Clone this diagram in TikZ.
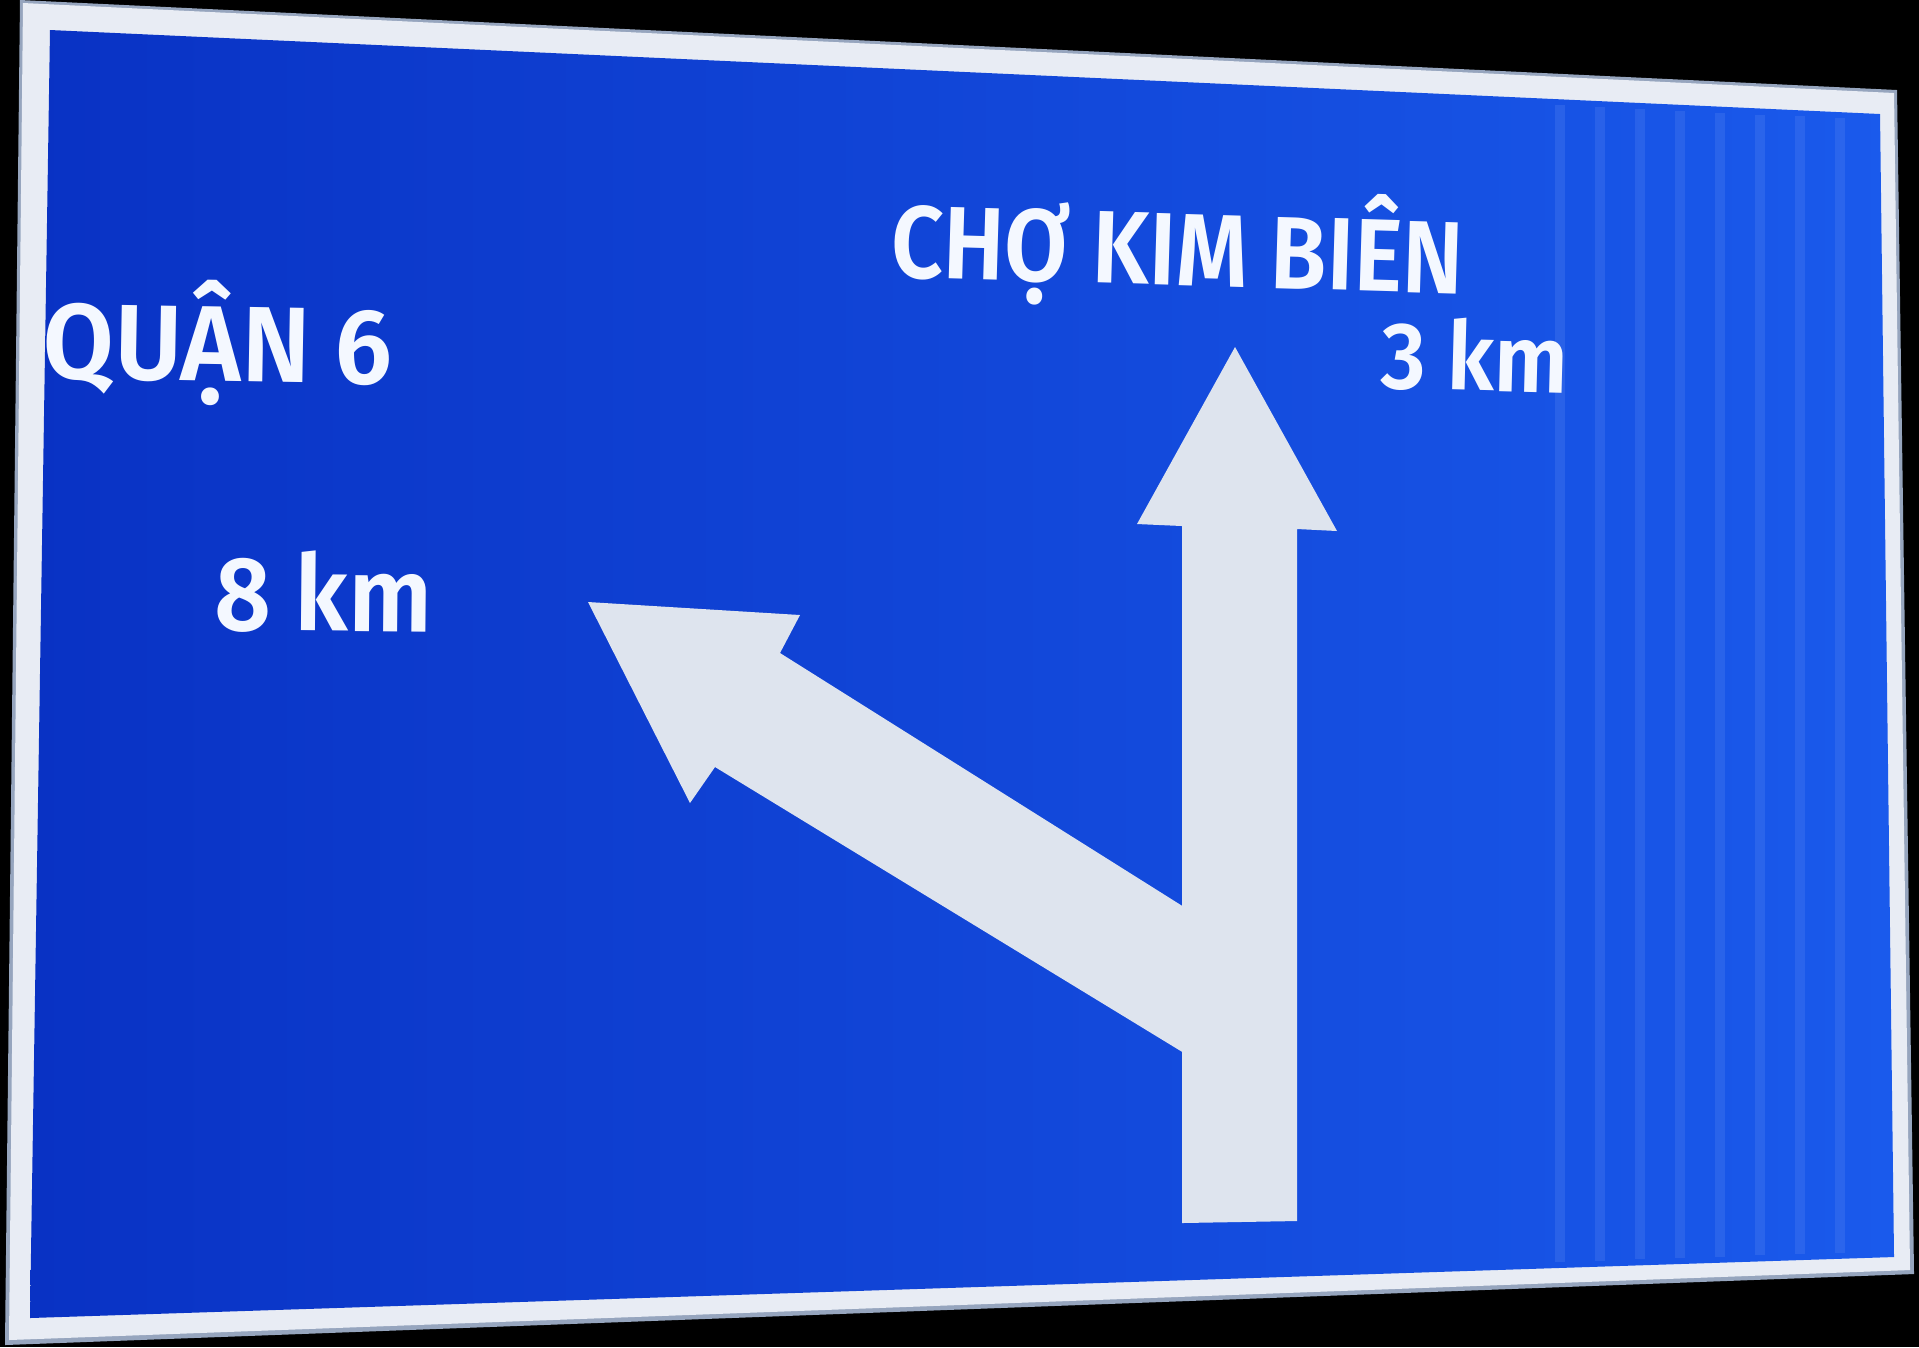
\documentclass[tikz,border=0pt]{standalone}
\usepackage{fontspec}
\setmainfont{Fira Sans}[BoldFont={Fira Sans SemiBold}]
\usepackage{graphicx}
\newsavebox\sgnbox
\newcommand\fitw[2]{\sbox\sgnbox{#2}\pgfmathsetmacro\sgnsx{#1*0.284528/\the\wd\sgnbox}\scalebox{\sgnsx}[1]{\usebox\sgnbox}}
\definecolor{blueA}{RGB}{9,50,196}
\definecolor{blueB}{RGB}{26,90,236}
\definecolor{rimwhite}{RGB}{232,236,244}
\definecolor{rimgrey}{RGB}{150,165,190}
\definecolor{arrowwhite}{RGB}{222,228,238}
\definecolor{txtwhite}{RGB}{244,248,255}
\tikzset{
  signtxt/.style={text=txtwhite, inner sep=0pt, outer sep=0pt, anchor=base west},
  arrowshape/.style={fill=arrowwhite, draw=none},
}
\begin{document}
\begin{tikzpicture}[x=0.01cm,y=-0.01cm]
\path[use as bounding box, fill=black] (0,0) rectangle (1919,1347);
% sign plate
\fill[rimgrey] (20,0) -- (1897,90) -- (1914,1274) -- (5,1345) -- cycle;
\fill[rimwhite] (23,3) -- (1894,93) -- (1910,1270) -- (9,1340) -- cycle;
\shade[left color=blueA, middle color=blueA, right color=blueB]
  (50,30) -- (1880,114) -- (1894,1257) -- (30,1318) -- cycle;
% faint reflection stripes on the right
\foreach \xx in {1560,1600,1640,1680,1720,1760,1800,1840}{
  \draw[blueB!70!white, opacity=0.25, line width=3pt] (\xx,{36+0.0459*(\xx-50)}) -- (\xx,{1312-0.0327*(\xx-30)});
}
% vertical arrow (straight ahead)
\path[arrowshape] (1182,1223) -- (1182,526) -- (1137,524) -- (1235,347)
  -- (1337,531) -- (1297,529) -- (1297,1221) -- cycle;
% diagonal arrow (left)
\path[arrowshape] (588,602) -- (800,615) -- (780,653) -- (1184,907)
  -- (1184,1053) -- (715,767) -- (690,803) -- cycle;
% texts
\node[signtxt, font=\fontsize{30.5}{32}\selectfont\bfseries, rotate=-1]
  (quan) at (43,378) {\fitw{349}{QUẬN 6}};
\node[signtxt, font=\fontsize{30}{32}\selectfont\bfseries, rotate=-0.5]
  (dist8) at (214,630) {\fitw{218}{8 km}};
\node[signtxt, font=\fontsize{29.3}{31}\selectfont\bfseries, rotate=-1.7]
  (cho) at (890,277) {\fitw{573}{CHỢ KIM BIÊN}};
\node[signtxt, font=\fontsize{27}{29}\selectfont\bfseries, rotate=-1.5]
  (dist3) at (1380,388) {\fitw{188}{3 km}};
\end{tikzpicture}
\end{document}
